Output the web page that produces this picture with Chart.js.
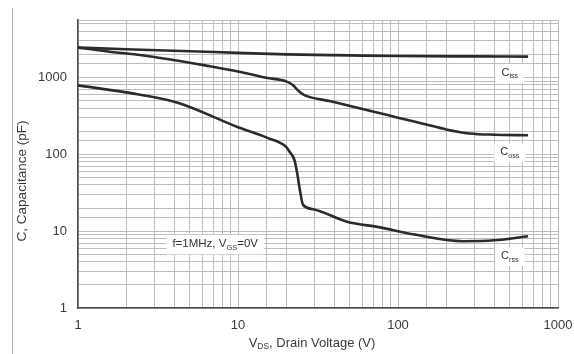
<!DOCTYPE html>
<html>
<head>
<meta charset="utf-8">
<script src="https://cdn.jsdelivr.net/npm/chart.js@4"></script>
<style>
  html, body { margin: 0; padding: 0; background: #fff; }
  #wrap { position: relative; width: 574px; height: 354px; }
  #frame { position: absolute; left: 12px; top: 8px; width: 1px; height: 346px; background: #b0b0b0; }
</style>
</head>
<body>
<div id="wrap">
  <div id="frame"></div>
  <canvas id="myChart" width="574" height="354"></canvas>
</div>
<script>
"use strict";

// VDS (V) and capacitance (pF)
const cissVolts = [1, 2, 5, 10, 20, 50, 100, 300, 650];
const cissValues = [2450, 2330, 2200, 2090, 2000, 1940, 1900, 1880, 1870];

const cossVolts = [1, 1.5, 3, 6.7, 10, 15, 20, 22, 24, 26, 38, 74, 100, 150, 200, 280, 400, 650];
const cossValues = [2450, 2200, 1850, 1400, 1200, 990, 890, 800, 660, 590, 490, 350, 300, 245, 211, 187, 180, 177];

const crssVolts = [1, 2, 4.2, 10, 15, 20, 21, 22.5, 23.4, 24.5, 25.5, 29.5, 48, 77, 124, 255, 400, 650];
const crssValues = [790, 640, 470, 225, 166, 125, 108, 85, 58, 32, 22, 19.3, 13.3, 11.2, 9.1, 7.4, 7.6, 8.6];

const xTickValues = [1, 10, 100, 1000];
const yTickValues = [1, 10, 100, 1000];

function toPoints(xs, ys) {
  return xs.map((x, i) => ({ x: x, y: ys[i] }));
}

function majorLabel(list) {
  return (value) => (list.includes(Number(value)) ? String(value) : "");
}

// draws text with a subscript part, returns width
function drawSub(ctx, parts, x, y, size, measureOnly) {
  let w = 0;
  parts.forEach((p) => {
    const s = p.sub ? size * 0.65 : size;
    ctx.font = s + "px 'Liberation Sans', Arial, sans-serif";
    if (!measureOnly) ctx.fillText(p.t, x + w, y + (p.sub ? size * 0.3 : 0));
    w += ctx.measureText(p.t).width;
  });
  return w;
}

const notesPlugin = {
  id: "notes",
  afterDatasetsDraw(chart) {
    const ctx = chart.ctx;
    const xs = chart.scales.x;
    const ys = chart.scales.y;
    ctx.save();
    ctx.textBaseline = "middle";
    ctx.textAlign = "left";

    const notes = [
      { x: 500, y: 1150, size: 11, parts: [{ t: "C" }, { t: "iss", sub: true }] },
      { x: 500, y: 106, size: 11, parts: [{ t: "C" }, { t: "oss", sub: true }] },
      { x: 500, y: 4.7, size: 11, parts: [{ t: "C" }, { t: "rss", sub: true }] },
      { x: 7.2, y: 6.8, size: 11.5, parts: [{ t: "f=1MHz, V" }, { t: "GS", sub: true }, { t: "=0V" }] },
    ];

    notes.forEach((n) => {
      const w = drawSub(ctx, n.parts, 0, 0, n.size, true);
      const cx = xs.getPixelForValue(n.x);
      const cy = ys.getPixelForValue(n.y);
      ctx.fillStyle = "#ffffff";
      ctx.fillRect(cx - w / 2 - 6, cy - n.size * 0.8, w + 12, n.size * 1.7);
      ctx.fillStyle = "#333333";
      drawSub(ctx, n.parts, cx - w / 2, cy, n.size, false);
    });

    // axis titles
    ctx.fillStyle = "#3a3a3a";
    const xw = drawSub(ctx, [{ t: "V" }, { t: "DS", sub: true }, { t: ", Drain Voltage (V)" }], 0, 0, 13, true);
    drawSub(ctx, [{ t: "V" }, { t: "DS", sub: true }, { t: ", Drain Voltage (V)" }], 312 - xw / 2, 343, 13, false);

    ctx.translate(22, 181);
    ctx.rotate(-Math.PI / 2);
    ctx.textAlign = "center";
    ctx.font = "13.5px 'Liberation Sans', Arial, sans-serif";
    ctx.fillText("C, Capacitance (pF)", 0, 0);
    ctx.restore();
  },
};

const lineStyle = {
  borderColor: "#2b2b2b",
  borderWidth: 2.6,
  pointRadius: 0,
  fill: false,
  cubicInterpolationMode: "monotone",
};

const ctx = document.getElementById("myChart");
const myChart = new Chart(ctx, {
  type: "line",
  data: {
    datasets: [
      Object.assign({ label: "Ciss", data: toPoints(cissVolts, cissValues) }, lineStyle),
      Object.assign({ label: "Coss", data: toPoints(cossVolts, cossValues) }, lineStyle),
      Object.assign({ label: "Crss", data: toPoints(crssVolts, crssValues) }, lineStyle),
    ],
  },
  options: {
    responsive: false,
    animation: false,
    layout: { padding: { left: 0, right: 16, top: 20, bottom: 0 } },
    plugins: {
      legend: { display: false },
      tooltip: { enabled: false },
    },
    scales: {
      x: {
        type: "logarithmic",
        min: 1,
        max: 1000,
        afterFit: (s) => {
          s.height = 46;
          s.paddingRight = 0;
          s.paddingLeft = 0;
        },
        grid: { color: "#bdbdbd", lineWidth: 1, drawTicks: false },
        border: { color: "#4a4a4a", width: 1.5 },
        ticks: {
          autoSkip: false,
          maxRotation: 0,
          padding: 10,
          color: "#3a3a3a",
          font: { size: 13, family: "'Liberation Sans', Arial, sans-serif" },
          callback: majorLabel(xTickValues),
        },
      },
      y: {
        type: "logarithmic",
        min: 1,
        max: 5600,
        afterFit: (s) => {
          s.width = 78;
          s.paddingTop = 0;
          s.paddingBottom = 0;
        },
        grid: { color: "#bdbdbd", lineWidth: 1, drawTicks: false },
        border: { color: "#4a4a4a", width: 1.5 },
        ticks: {
          autoSkip: false,
          padding: 11,
          color: "#3a3a3a",
          font: { size: 13, family: "'Liberation Sans', Arial, sans-serif" },
          callback: majorLabel(yTickValues),
        },
      },
    },
  },
  plugins: [notesPlugin],
});
</script>
</body>
</html>
